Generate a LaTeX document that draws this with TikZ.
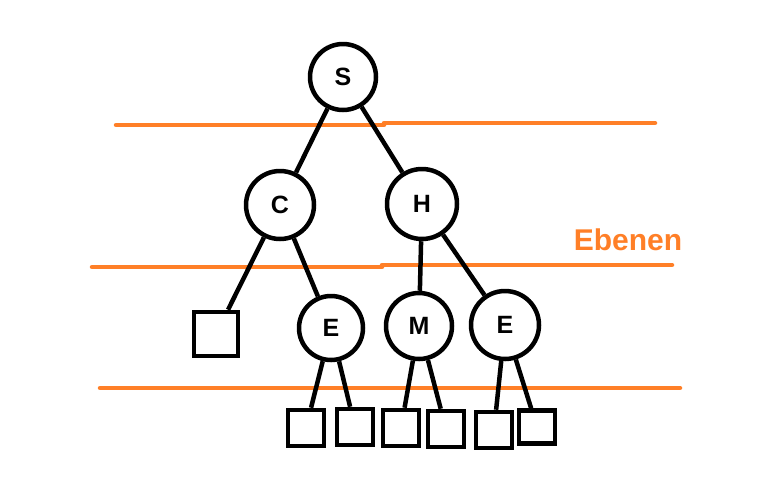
\documentclass[tikz,border=0pt]{standalone}
\usepackage{fontspec}
\setmainfont{Liberation Sans}
\definecolor{ebene}{RGB}{255,127,39}
\begin{document}
\begin{tikzpicture}[x=1pt,y=-1pt,line width=4.5pt,
knot/.style={draw,circle,inner sep=0pt,minimum size=66pt,font=\fontsize{25}{25}\selectfont\bfseries},
blatt/.style={draw,rectangle,inner sep=0pt,minimum size=36pt},
ebenenlinie/.style={draw=ebene,line width=4.5pt,line cap=round}]
\useasboundingbox (0,0) rectangle (775,496);
% Ebenen
\draw[ebenenlinie] (116,125) -- (384,125);
\draw[ebenenlinie] (384,123) -- (655,123);
\draw[ebenenlinie] (92,267) -- (382,267);
\draw[ebenenlinie] (382,265) -- (672,265);
\draw[ebenenlinie] (100,388) -- (680,388);
\draw (628,240) node[text=ebene,font=\fontsize{30}{30}\selectfont\bfseries] (ebenen) {Ebenen};

% Knoten
\draw (343,77) node[knot] (S) {S};
\draw (280,205) node[knot,minimum size=68pt] (C) {C};
\draw (422,204) node[knot,minimum size=70pt] (H) {H};
\draw (331,328) node[knot,minimum size=64pt] (E1) {E};
\draw (419,326) node[knot] (M) {M};
\draw (505,325) node[knot,minimum size=68pt] (E2) {E};

% Blaetter
\draw (216,334) node[blatt,minimum size=44pt] (b0) {};
\draw (306,428) node[blatt] (b1) {};
\draw (355,427) node[blatt] (b2) {};
\draw (401,428) node[blatt] (b3) {};
\draw (446,429) node[blatt] (b4) {};
\draw (494,430) node[blatt] (b5) {};
\draw (537,427) node[blatt,minimum height=33pt] (b6) {};

% Kanten
\draw (S) -- (C);
\draw (S) -- (H);
\draw (C) -- (b0);
\draw (C) -- (E1);
\draw (H) -- (M);
\draw (H) -- (E2);
\draw (E1) -- (b1);
\draw (E1) -- (b2);
\draw (M) -- (b3);
\draw (M) -- (b4);
\draw (E2) -- (b5);
\draw (E2) -- (b6);
\end{tikzpicture}
\end{document}
